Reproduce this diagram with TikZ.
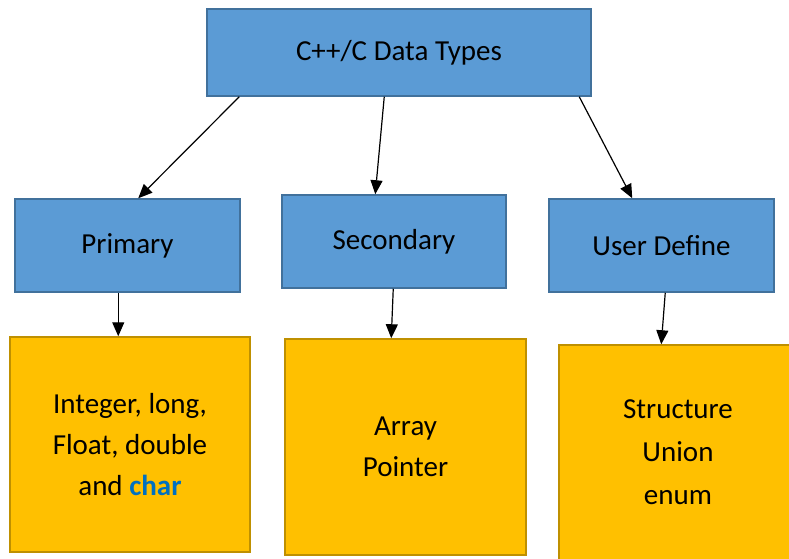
\documentclass[tikz,border=0pt]{standalone}
\usepackage{fontspec}
\setmainfont{Carlito}
\usepackage{tikz}
\usetikzlibrary{arrows.meta}
\usetikzlibrary{positioning}

\definecolor{boxblue}{HTML}{5B9BD5}
\definecolor{edgeblue}{HTML}{41719C}
\definecolor{boxgold}{HTML}{FFC000}
\definecolor{edgegold}{HTML}{BF9000}
\definecolor{charblue}{HTML}{0070C0}

\begin{document}
\begin{tikzpicture}[x=1pt,y=1pt,>={Triangle[length=14pt,width=12pt]},
  typebox/.style={draw=edgeblue,fill=boxblue,line width=1.5pt,inner sep=0pt,
    font=\fontsize{29}{35}\selectfont},
  listbox/.style={draw=edgegold,fill=boxgold,line width=1.5pt,inner sep=0pt,
    align=center,font=\fontsize{29}{41}\selectfont},
  link/.style={->,line width=1.2pt}]
  \useasboundingbox (0,0) rectangle (789,558);

  \node[typebox,minimum width=384,minimum height=87] (top) at (399,505.5) {C++/C Data Types};

  \node[typebox,minimum width=225,minimum height=93] (prim) at (127.5,312.5) {Primary};
  \node[typebox,minimum width=224,minimum height=93] (sec) at (394,316.5) {Secondary};
  \node[typebox,minimum width=225,minimum height=93] (user) at (661.5,312.5) {User Define};

  \node[listbox,minimum width=240,minimum height=215] (prim list) at (130,113.5)
    {Integer, long,\\Float, double\\and \textcolor{charblue}{\bfseries char}};
  \node[listbox,minimum width=241,minimum height=216] (sec list) at (405.5,111)
    {Array\\Pointer};
  \node[listbox,minimum width=238,minimum height=215,
    font=\fontsize{29}{43}\selectfont] (user list) at (678,105.5)
    {Structure\\Union\\enum};

  \draw[link]([xshift=33pt]top.south west)--([xshift=124pt]prim.north west);
  \draw[link]([xshift=178pt]top.south west)--([xshift=94pt]sec.north west);
  \draw[link]([xshift=373pt]top.south west)--([xshift=84pt]user.north west);

  \draw[link]([xshift=104pt]prim.south west)--([xshift=109pt]prim list.north west);
  \draw[link]([xshift=112pt]sec.south west)--([xshift=107pt]sec list.north west);
  \draw[link]([xshift=117pt]user.south west)--([xshift=103pt]user list.north west);
\end{tikzpicture}
\end{document}
